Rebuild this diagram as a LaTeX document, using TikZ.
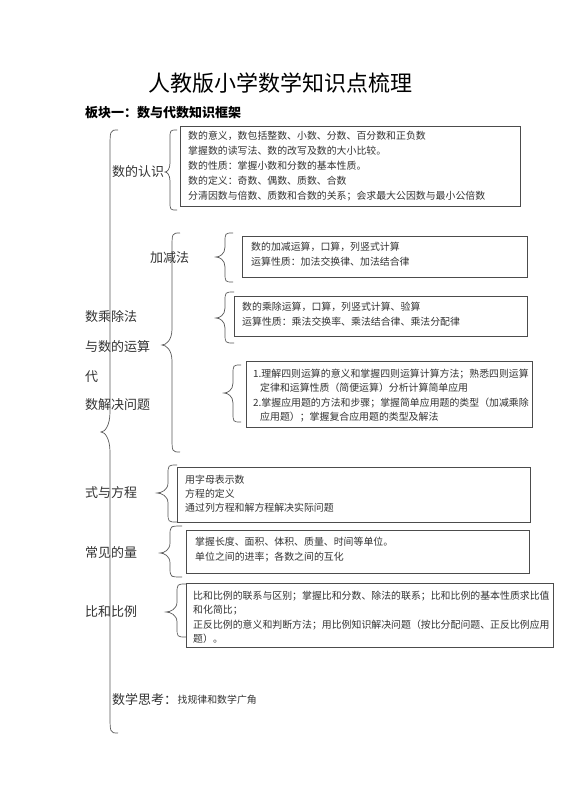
\documentclass[tikz,border=0pt]{standalone}
\usepackage{fontspec}
\setmainfont{Noto Sans CJK SC}
\begin{document}
\begin{tikzpicture}[x=1pt,y=-1pt]
\tikzset{
 box/.style={draw=black!70, line width=0.9pt},
 brc/.style={draw=black!65, line width=0.7pt},
 ln/.style={anchor=west, inner sep=0pt, text=black!80, font=\fontsize{9.9}{12}\selectfont, text height=8.7pt, text depth=1.2pt},
 lbl/.style={anchor=west, inner sep=0pt, text=black!80, font=\fontsize{13}{15}\selectfont, text height=11.4pt, text depth=1.6pt},
}
\newcommand\cbrace[7]{%
 \draw[brc] (#3,#4) .. controls ({#2},{#4}) and ({#2},{#4}) .. ({#2},{#4+#7})
  -- ({#2},{#5-#7}) .. controls ({#2},{#5-0.3*#7}) and ({#1+0.4*(#2-#1)},{#5}) .. ({#1},{#5})
  .. controls ({#1+0.4*(#2-#1)},{#5}) and ({#2},{#5+0.3*#7}) .. ({#2},{#5+#7})
  -- ({#2},{#6-#7}) .. controls ({#2},{#6}) and ({#2},{#6}) .. ({#3},{#6});}
\useasboundingbox[fill=white] (0,0) rectangle (560,792);

% title
\node[inner sep=0pt, font=\fontsize{22}{26}\selectfont, text height=19.4pt, text depth=2.6pt] (title) at (280,83) {人教版小学数学知识点梳理};
\node[anchor=west, inner sep=0pt, font=\fontsize{13}{15}\selectfont\bfseries, text height=11.4pt, text depth=1.6pt] (sub) at (85,113) {板块一：数与代数知识框架};

% big brace
\cbrace{101}{110}{118}{130}{432}{733}{20}

% 数的认识
\node[lbl] (l1) at (112,172) {数的认识};
\cbrace{165}{170}{177}{130}{172}{210}{9}
\draw[box] (180,126) rectangle (520,206);
\node[ln] (t11) at (188,135.5) {数的意义，数包括整数、小数、分数、百分数和正负数};
\node[ln] (t12) at (188,150.5) {掌握数的读写法、数的改写及数的大小比较。};
\node[ln] (t13) at (188,165.5) {数的性质：掌握小数和分数的基本性质。};
\node[ln] (t14) at (188,180.5) {数的定义：奇数、偶数、质数、合数};
\node[ln] (t15) at (188,195.5) {分清因数与倍数、质数和合数的关系；会求最大公因数与最小公倍数};

% 数的运算
\cbrace{162}{172}{180}{233}{345}{452}{16}
\node[lbl] (l2) at (150,258) {加减法};
\node[lbl] (l3) at (85,317) {数乘除法};
\node[lbl] (l4) at (85,347) {与数的运算};
\node[lbl] (l5) at (85,377) {代};
\node[lbl] (l6) at (85,405) {数解决问题};

\cbrace{216}{225}{233}{233}{257}{282}{10}
\draw[box] (242,236) rectangle (527,277);
\node[ln] (t21) at (251,247) {数的加减运算，口算，列竖式计算};
\node[ln] (t22) at (251,262) {运算性质：加法交换律、加法结合律};

\cbrace{216}{225}{234}{292}{318}{343}{10}
\draw[box] (234,296) rectangle (527,336);
\node[ln] (t31) at (242,307) {数的乘除运算，口算，列竖式计算、验算};
\node[ln] (t32) at (242,322) {运算性质：乘法交换率、乘法结合律、乘法分配律};

\cbrace{224}{233}{241}{365}{393}{422}{10}
\draw[box] (246,361) rectangle (532,427);
\node[ln] (t41) at (253,373.5) {1.理解四则运算的意义和掌握四则运算计算方法；熟悉四则运算};
\node[ln] (t42) at (260,388) {定律和运算性质（简便运算）分析计算简单应用};
\node[ln] (t43) at (253,402.5) {2.掌握应用题的方法和步骤；掌握简单应用题的类型（加减乘除};
\node[ln] (t44) at (260,416.5) {应用题）；掌握复合应用题的类型及解法};

% 式与方程
\node[lbl] (l7) at (85,493) {式与方程};
\cbrace{157}{168}{177}{465}{493}{522}{10}
\draw[box] (177,467) rectangle (530,522);
\node[ln] (t51) at (185,480) {用字母表示数};
\node[ln] (t52) at (185,493.5) {方程的定义};
\node[ln] (t53) at (185,508) {通过列方程和解方程解决实际问题};

% 常见的量
\node[lbl] (l8) at (85,553) {常见的量};
\cbrace{160}{170}{182}{526}{553}{577}{10}
\draw[box] (186,530) rectangle (529,573);
\node[ln] (t61) at (195,542) {掌握长度、面积、体积、质量、时间等单位。};
\node[ln] (t62) at (195,557) {单位之间的进率；各数之间的互化};

% 比和比例
\node[lbl] (l9) at (85,612) {比和比例};
\cbrace{166}{177}{186}{584}{612}{637}{10}
\draw[box] (186,583) rectangle (553,647);
\node[ln] (t71) at (193,595.5) {比和比例的联系与区别；掌握比和分数、除法的联系；比和比例的基本性质求比值};
\node[ln] (t72) at (193,610) {和化简比；};
\node[ln] (t73) at (193,624.5) {正反比例的意义和判断方法；用比例知识解决问题（按比分配问题、正反比例应用};
\node[ln] (t74) at (193,638.5) {题）。};

% 数学思考
\node[lbl] (l10) at (112,700) {数学思考：};
\node[ln] (t81) at (l10.east) {找规律和数学广角};
\end{tikzpicture}
\end{document}
